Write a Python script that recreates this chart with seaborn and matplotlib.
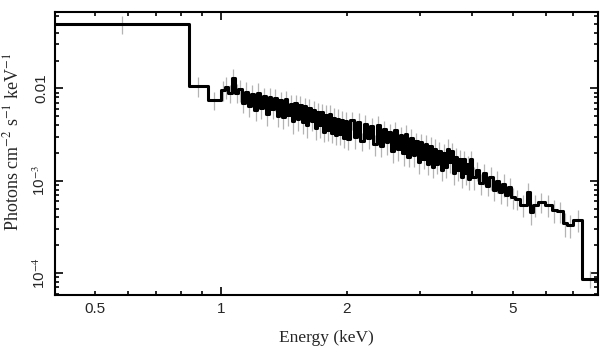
"""Unfolded X-ray spectrum: step histogram with grey error bars on log-log axes."""
import numpy as np
import pandas as pd
import matplotlib
matplotlib.use("Agg")
import matplotlib.pyplot as plt
import seaborn as sns
from matplotlib.ticker import FixedLocator, FixedFormatter, FuncFormatter, LogLocator, NullFormatter

# Bin edges (keV), one more than the flux values
bin_edges = [
    0.40, 0.838, 0.93,
    1.00, 1.02, 1.04, 1.06, 1.08, 1.10, 1.12, 1.14, 1.16, 1.18,
    1.20, 1.22, 1.24, 1.26, 1.28, 1.30, 1.32, 1.34, 1.36, 1.38,
    1.40, 1.42, 1.44, 1.46, 1.48, 1.50, 1.52, 1.54, 1.56, 1.58,
    1.60, 1.62, 1.64, 1.66, 1.68, 1.70, 1.72, 1.74, 1.76, 1.78,
    1.80, 1.82, 1.84, 1.86, 1.88, 1.90, 1.92, 1.94, 1.96, 1.98,
    2.00, 2.04, 2.08, 2.12, 2.16, 2.20, 2.24, 2.28, 2.32, 2.36,
    2.40, 2.44, 2.48, 2.52, 2.56, 2.60, 2.64, 2.68, 2.72, 2.76,
    2.80, 2.84, 2.88, 2.92, 2.96, 3.00, 3.04, 3.08, 3.12, 3.16,
    3.20, 3.24, 3.28, 3.32, 3.36, 3.40, 3.44, 3.48, 3.52, 3.56,
    3.60, 3.64, 3.68, 3.72, 3.76, 3.80, 3.84, 3.88, 3.92, 3.96,
    4.00, 4.08, 4.16, 4.24, 4.32, 4.40, 4.48, 4.56, 4.64, 4.72,
    4.80, 4.88, 4.96,
    5.06, 5.20, 5.41, 5.50, 5.59, 5.74, 5.97, 6.21, 6.38, 6.60,
    6.74, 6.97, 7.35, 8.00,
]

# Photons cm^-2 s^-1 keV^-1 per bin
flux = [
    0.0495, 0.0107, 0.0075,
    0.0096, 0.0104, 0.0088, 0.0128, 0.0090, 0.0098, 0.0070, 0.0092, 0.0064, 0.0086,
    0.0058, 0.0090, 0.0062, 0.0082, 0.0053, 0.0080, 0.0060, 0.0078, 0.0050, 0.0074,
    0.0049, 0.0076, 0.0052, 0.0068, 0.0044, 0.0070, 0.0047, 0.0066, 0.0043, 0.0064,
    0.0040, 0.0062, 0.0044, 0.0058, 0.0037, 0.0056, 0.0040, 0.0055, 0.0034, 0.0052,
    0.0035, 0.0053, 0.0033, 0.0048, 0.0031, 0.0047, 0.0032, 0.0045, 0.0029, 0.0044,
    0.0028, 0.0045, 0.0030, 0.0043, 0.0027, 0.0041, 0.0029, 0.0039, 0.0025, 0.0040,
    0.0024, 0.0036, 0.0026, 0.0034, 0.0021, 0.0035, 0.0022, 0.0031, 0.0020, 0.0032,
    0.0018, 0.0029, 0.0019, 0.0027, 0.0016, 0.0026, 0.0017, 0.0025, 0.0015, 0.0024,
    0.0014, 0.0022, 0.0015, 0.0021, 0.0013, 0.0020, 0.0014, 0.0022, 0.0016, 0.0021,
    0.0012, 0.0018, 0.0013, 0.0017, 0.0011, 0.0017, 0.0012, 0.0015, 0.00105, 0.0017,
    0.0011, 0.0013, 0.00095, 0.0012, 0.00088, 0.0011, 0.00080, 0.0010, 0.00075, 0.00092,
    0.00070, 0.00086, 0.00066,
    0.00064, 0.00055, 0.00076, 0.00046, 0.00055, 0.00059, 0.00055, 0.00048, 0.00047, 0.00035,
    0.00033, 0.00038, 0.000087,
]

# Relative 1-sigma errors per bin
err_frac = [
    0.22, 0.24, 0.22,
    0.24, 0.26, 0.22, 0.25, 0.23, 0.27, 0.22, 0.26, 0.24, 0.25,
    0.23, 0.27, 0.24, 0.22, 0.26, 0.25, 0.23, 0.27, 0.24, 0.22,
    0.26, 0.24, 0.25, 0.23, 0.27, 0.22, 0.26, 0.24, 0.25, 0.23,
    0.27, 0.24, 0.22, 0.26, 0.25, 0.23, 0.27, 0.24, 0.22, 0.26,
    0.24, 0.25, 0.23, 0.27, 0.22, 0.26, 0.24, 0.25, 0.23, 0.27,
    0.24, 0.22, 0.26, 0.25, 0.23, 0.27, 0.24, 0.22, 0.26, 0.24,
    0.25, 0.23, 0.27, 0.22, 0.26, 0.24, 0.25, 0.23, 0.27, 0.24,
    0.22, 0.26, 0.25, 0.23, 0.27, 0.24, 0.22, 0.26, 0.24, 0.25,
    0.23, 0.27, 0.22, 0.26, 0.24, 0.25, 0.23, 0.27, 0.24, 0.22,
    0.26, 0.25, 0.23, 0.27, 0.24, 0.22, 0.26, 0.24, 0.25, 0.23,
    0.27, 0.24, 0.26, 0.25, 0.23, 0.27, 0.24, 0.26, 0.25, 0.27,
    0.24, 0.26, 0.25,
    0.25, 0.27, 0.24, 0.28, 0.26, 0.25, 0.27, 0.28, 0.26, 0.29,
    0.28, 0.27, 0.20,
]

sns.set_style("ticks")
plt.rcParams["font.family"] = ["Liberation Sans", "DejaVu Sans"]
plt.rcParams["mathtext.fontset"] = "stix"

edges = np.array(bin_edges)
vals = np.array(flux)
centers = np.sqrt(edges[:-1] * edges[1:])
err = vals * np.array(err_frac)

# steps-post needs the last value repeated at the closing edge
step_df = pd.DataFrame({"energy": edges, "flux": np.append(vals, vals[-1])})

fig = plt.figure(figsize=(6.09, 3.57), dpi=100)
ax = fig.add_axes([0.0903, 0.1737, 0.8911, 0.7927])

ax.vlines(centers, vals - err, vals + err, color="#b4b4b4", lw=0.9, zorder=1)
sns.lineplot(data=step_df, x="energy", y="flux", drawstyle="steps-post",
             color="black", lw=2.2, estimator=None, sort=False, ax=ax, zorder=3)

ax.set_xscale("log")
ax.set_yscale("log")
ax.set_xlim(0.4, 8.0)
ax.set_ylim(5.8e-5, 0.067)

# x: long tick at 1, short ticks elsewhere with labels on 0.5, 2, 5
ax.xaxis.set_major_locator(FixedLocator([1]))
ax.xaxis.set_major_formatter(FixedFormatter(["1"]))
ax.xaxis.set_minor_locator(FixedLocator([0.4, 0.5, 0.6, 0.7, 0.8, 0.9, 2, 3, 4, 5, 6, 7, 8]))
ax.xaxis.set_minor_formatter(FuncFormatter(lambda v, p: f"{v:g}" if v in (0.5, 2, 5) else ""))

ax.yaxis.set_major_locator(FixedLocator([1e-4, 1e-3, 1e-2]))
ax.yaxis.set_major_formatter(FixedFormatter(["10$^{-4}$", "10$^{-3}$", "0.01"]))
ax.yaxis.set_minor_locator(LogLocator(base=10, subs=range(2, 10), numticks=20))
ax.yaxis.set_minor_formatter(NullFormatter())

ax.tick_params(which="both", direction="in", top=True, right=True, width=1.2,
               labelsize=11, color="black")
ax.tick_params(which="major", length=6)
ax.tick_params(which="minor", length=3)
ax.tick_params(axis="x", which="both", pad=5)
ax.tick_params(axis="y", which="both", pad=5)
for lab in ax.get_yticklabels():
    lab.set_rotation(90)
    lab.set_va("center")

for sp in ax.spines.values():
    sp.set_linewidth(1.5)
    sp.set_color("black")

ax.set_xlabel("Energy (keV)", family="Liberation Serif", fontsize=12.5, labelpad=10)
ax.set_ylabel("Photons cm$^{-2}$ s$^{-1}$ keV$^{-1}$", family="Liberation Serif",
              fontsize=13)
ax.yaxis.set_label_coords(-0.06, 0.54)

fig.savefig("out.png", dpi=100)
